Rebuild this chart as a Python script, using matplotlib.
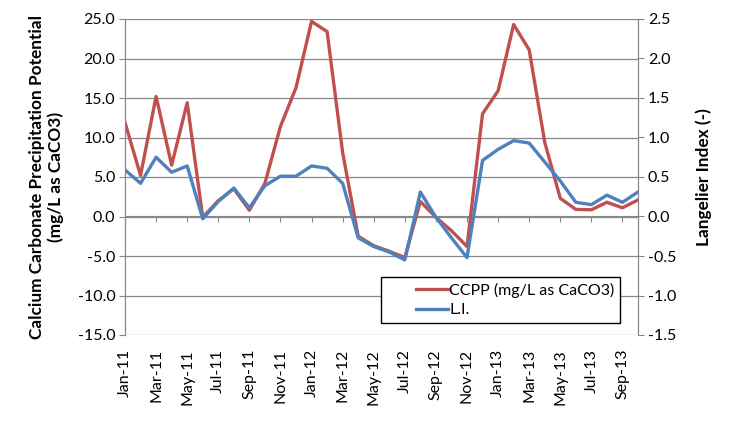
import numpy as np
import matplotlib.pyplot as plt
from matplotlib.lines import Line2D
from matplotlib.legend_handler import HandlerLine2D

plt.rcParams['font.family'] = ['Lato', 'DejaVu Sans']

months = ['Jan-11', 'Feb-11', 'Mar-11', 'Apr-11', 'May-11', 'Jun-11', 'Jul-11', 'Aug-11',
          'Sep-11', 'Oct-11', 'Nov-11', 'Dec-11', 'Jan-12', 'Feb-12', 'Mar-12', 'Apr-12',
          'May-12', 'Jun-12', 'Jul-12', 'Aug-12', 'Sep-12', 'Oct-12', 'Nov-12', 'Dec-12',
          'Jan-13', 'Feb-13', 'Mar-13', 'Apr-13', 'May-13', 'Jun-13', 'Jul-13', 'Aug-13',
          'Sep-13', 'Oct-13']

ccpp = [11.9, 5.2, 15.2, 6.5, 14.4, -0.1, 2.0, 3.5, 0.8, 4.2, 11.4, 16.3,
        24.7, 23.4, 8.1, -2.5, -3.7, -4.4, -5.2, 1.9, -0.1, -1.8, -3.8, 13.0,
        15.9, 24.3, 21.1, 9.4, 2.3, 0.9, 0.85, 1.8, 1.1, 2.1]

li = [0.59, 0.42, 0.75, 0.56, 0.64, -0.03, 0.19, 0.36, 0.11, 0.39, 0.51, 0.51,
      0.64, 0.61, 0.42, -0.27, -0.38, -0.45, -0.55, 0.31, -0.01, -0.27, -0.52, 0.71,
      0.85, 0.96, 0.93, 0.69, 0.45, 0.18, 0.15, 0.27, 0.18, 0.31]

x = np.arange(len(months))
red = '#C0504D'
blue = '#4F81BD'
gray = '#888888'
fs = 11.5

fig = plt.figure(figsize=(7.35, 4.21), dpi=100)
ax = fig.add_axes([125/735, 1 - 335/421, (638-125)/735, (335-19)/421])
ax2 = ax.twinx()

l1, = ax.plot(x, ccpp, color=red, lw=2.4, label='CCPP (mg/L as CaCO3)')
l2, = ax2.plot(x, li, color=blue, lw=2.4, label='L.I.')

ax.set_xlim(0, len(months) - 1)
ax.set_ylim(-15, 25)
ax2.set_ylim(-1.5, 2.5)
ax.set_yticks(np.arange(-15, 25.1, 5))
ax.set_yticklabels([f'{v:.1f}' for v in np.arange(-15, 25.1, 5)])
ax2.set_yticks(np.arange(-1.5, 2.51, 0.5))
ax2.set_yticklabels([f'{v:.1f}' for v in np.arange(-1.5, 2.51, 0.5)])
ax.yaxis.grid(True, color=gray, lw=0.9)
ax.set_axisbelow(True)

ax.set_xticks(x[::2])
ax.set_xticklabels(months[::2], rotation=90, fontsize=fs)
ax.tick_params(axis='x', length=0, pad=10)
ax.tick_params(axis='y', length=4, color=gray, labelsize=fs, pad=3)
ax2.tick_params(axis='y', length=4, color=gray, labelsize=fs, pad=3)

for a in (ax, ax2):
    for s in ('top', 'bottom'):
        a.spines[s].set_visible(False)
    a.spines['left'].set_color(gray)
    a.spines['right'].set_color(gray)

# category axis crossing at zero with tick marks
sec = ax.secondary_xaxis(15 / 40)
sec.set_xticks(x[::2])
sec.set_xticklabels([])
sec.tick_params(length=4, color=gray, direction='out')
sec.spines['bottom'].set_color(gray)

ax.set_ylabel('Calcium Carbonate Precipitation Potential\n(mg/L as CaCO3)',
              fontsize=12.4, fontweight='bold', labelpad=10, linespacing=1.15)
ax2.set_ylabel('Langelier Index (-)', fontsize=12.4, fontweight='bold', labelpad=14)

leg = ax2.legend(handles=[l1, l2], loc='lower right', bbox_to_anchor=(0.965, 0.038),
                 fontsize=fs, frameon=True, fancybox=False, handlelength=3.9,
                 handletextpad=0.05, borderpad=0.35, labelspacing=0.35, borderaxespad=0,
                 handler_map={Line2D: HandlerLine2D(xpad=1.9)})
leg.get_frame().set_edgecolor('black')
leg.get_frame().set_linewidth(1.0)
leg.get_frame().set_alpha(1)

fig.savefig('out.png', dpi=100)
